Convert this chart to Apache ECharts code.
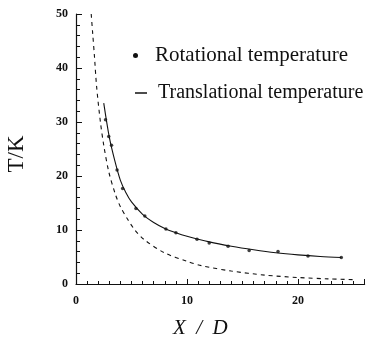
<!DOCTYPE html>
<html>
<head>
<meta charset="utf-8">
<script src="https://cdn.jsdelivr.net/npm/echarts@6/dist/echarts.min.js"></script>
<style>html,body{margin:0;padding:0;background:#fff}#c{width:374px;height:343px}</style>
</head>
<body>
<div id="c"></div>
<script>
// Rotational temperature: measured dots
var rotX = [2.66, 2.95, 3.2, 3.7, 4.2, 5.4, 6.2, 8.1, 9.0, 10.9, 12.0, 13.7, 15.6, 18.2, 20.9, 23.9];
var rotT = [30.4, 27.3, 25.7, 21.1, 17.7, 14.0, 12.6, 10.2, 9.5, 8.3, 7.6, 7.0, 6.2, 6.0, 5.2, 4.9];
// Solid curve drawn through the rotational dots
var curveX = [2.5, 3.0, 3.5, 4.0, 4.5, 5.0, 6.0, 7.0, 8.0, 9.0, 10.0, 12.0, 14.0, 16.0, 18.0, 20.0, 22.0, 23.9];
var curveT = [33.5, 27.2, 22.8, 19.2, 16.9, 15.2, 12.9, 11.4, 10.3, 9.5, 8.85, 7.8, 7.0, 6.35, 5.8, 5.4, 5.1, 4.9];
// Translational temperature (dashed)
var traX = [1.37, 1.5, 1.65, 1.86, 2.2, 2.5, 2.95, 3.55, 4.0, 4.65, 5.3, 6.15, 7.95, 10.0, 11.3, 14.0, 17.0, 20.0, 22.7, 25.0];
var traT = [50, 46.5, 42.5, 36.5, 30.0, 25.7, 20.8, 16.6, 14.3, 12.0, 10.0, 8.2, 5.8, 4.2, 3.4, 2.4, 1.65, 1.2, 0.95, 0.8];
var xTickLabels = [0, 10, 20];
var yTickLabels = [0, 10, 20, 30, 40, 50];

function pairs(xs, ys) { return xs.map(function (x, i) { return [x, ys[i]]; }); }

var ink = '#111';
var font = '"Liberation Serif", "DejaVu Serif", serif';
var chart = echarts.init(document.getElementById('c'), null, { renderer: 'canvas' });
chart.setOption({
  animation: false,
  backgroundColor: '#fff',
  grid: { left: 76, right: 9.4, top: 14, bottom: 59, containLabel: false, outerBoundsMode: 'none' },
  xAxis: {
    type: 'value', min: 0, max: 26, interval: 10,
    name: 'X  /  D', nameLocation: 'middle', nameGap: 34,
    nameTextStyle: { fontFamily: font, fontSize: 21, fontStyle: 'italic', color: ink, padding: [0, 40, 0, 0] },
    axisLine: { lineStyle: { color: ink, width: 1.2 } },
    axisTick: { inside: true, length: 5, lineStyle: { color: ink } },
    minorTick: { show: true, splitNumber: 10, length: 3, lineStyle: { color: ink } },
    splitLine: { show: false },
    axisLabel: {
      margin: 11, color: ink, fontFamily: font, fontSize: 12, fontWeight: 'bold',
      formatter: function (v) { return xTickLabels.indexOf(v) >= 0 ? String(v) : ''; }
    }
  },
  yAxis: {
    type: 'value', min: 0, max: 50, interval: 10,
    name: 'T/K', nameLocation: 'middle', nameGap: 48,
    nameTextStyle: { fontFamily: font, fontSize: 23, color: ink, padding: [0, 10, 0, 0] },
    axisLine: { show: true, lineStyle: { color: ink, width: 1.2 } },
    axisTick: { show: true, inside: true, length: 6, lineStyle: { color: ink } },
    minorTick: { show: true, splitNumber: 5, length: 4, lineStyle: { color: ink } },
    splitLine: { show: false },
    axisLabel: {
      margin: 8, color: ink, fontFamily: font, fontSize: 12, fontWeight: 'bold',
      formatter: function (v) { return yTickLabels.indexOf(v) >= 0 ? String(v) : ''; }
    }
  },
  legend: [
    {
      data: [{ name: 'Rotational temperature', icon: 'circle' }],
      left: 128, top: 40, itemWidth: 5, itemHeight: 5, orient: 'vertical',
      selectedMode: false,
      itemStyle: { color: ink, borderWidth: 0 },
      textStyle: { fontFamily: font, fontSize: 21, color: ink, padding: [0, 0, 0, 12] }
    },
    {
      data: [{ name: 'Translational temperature', icon: 'rect' }],
      left: 130, top: 78, itemWidth: 12, itemHeight: 1.5, orient: 'vertical',
      selectedMode: false,
      itemStyle: { color: ink, borderWidth: 0 },
      lineStyle: { width: 0 },
      textStyle: { fontFamily: font, fontSize: 20, color: ink, padding: [0, 0, 0, 6] }
    }
  ],
  series: [
    {
      name: 'Rotational temperature', type: 'line', smooth: 0.3,
      data: pairs(curveX, curveT), showSymbol: false, symbol: 'none',
      lineStyle: { color: ink, width: 1.1 }, itemStyle: { color: ink }, z: 2
    },
    {
      name: 'Rotational temperature', type: 'scatter',
      data: pairs(rotX, rotT), symbolSize: 3.5,
      itemStyle: { color: ink }, z: 3
    },
    {
      name: 'Translational temperature', type: 'line', smooth: 0.3,
      data: pairs(traX, traT), showSymbol: false, symbol: 'none',
      lineStyle: { color: ink, width: 1.1, type: [4, 4] }, itemStyle: { color: ink }, z: 2
    }
  ]
});
</script>
</body>
</html>
